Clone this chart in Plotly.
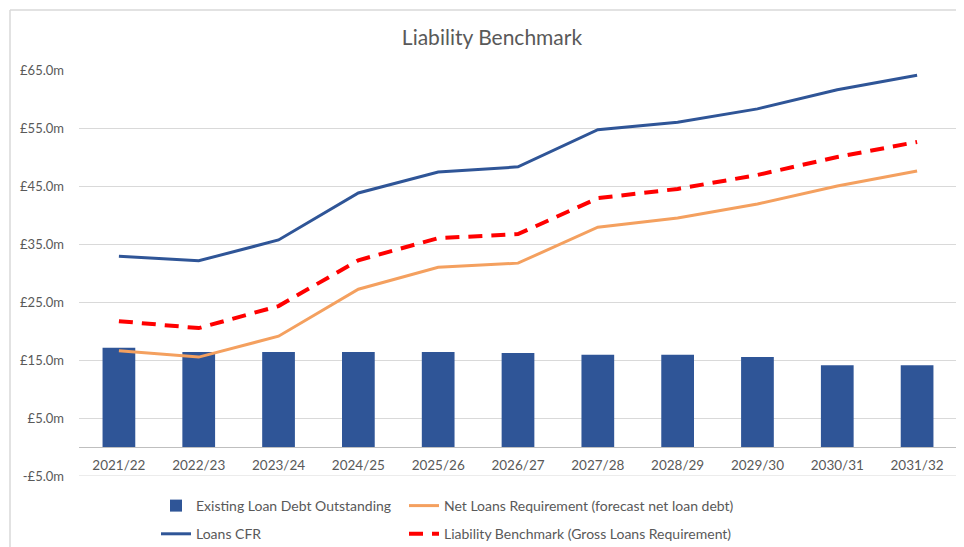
import plotly.graph_objects as go

categories = ["2021/22", "2022/23", "2023/24", "2024/25", "2025/26", "2026/27",
              "2027/28", "2028/29", "2029/30", "2030/31", "2031/32"]
existing_debt = [17.1, 16.4, 16.4, 16.4, 16.4, 16.2, 15.9, 15.9, 15.5, 14.1, 14.1]
net_loans_req = [16.6, 15.5, 19.1, 27.2, 31.0, 31.7, 37.9, 39.5, 41.9, 45.0, 47.6]
loans_cfr = [32.9, 32.1, 35.7, 43.8, 47.4, 48.3, 54.7, 56.0, 58.3, 61.6, 64.1]
liability_bm = [21.7, 20.5, 24.3, 32.2, 36.0, 36.7, 42.9, 44.5, 46.9, 50.0, 52.6]
y_ticks = [-5, 5, 15, 25, 35, 45, 55, 65]
y_tick_labels = ["-£5.0m", "£5.0m", "£15.0m", "£25.0m", "£35.0m", "£45.0m", "£55.0m", "£65.0m"]

FONT = "Lato"
GREY = "#595959"

# page has an 8px body margin; figure sized to fill the rest of the window
W, H = 956, 539
PL, PR, PT, PB = 71, 7, 62, 71
PW, PH = W - PL - PR, H - PT - PB

fig = go.Figure()
fig.add_trace(go.Bar(x=categories, y=existing_debt, name="Existing Loan Debt Outstanding",
                     marker=dict(color="#2F5597", line=dict(width=0)),
                     legend="legend", legendgroup="a"))
fig.add_trace(go.Scatter(x=categories, y=loans_cfr, name="Loans CFR", mode="lines",
                         line=dict(color="#2F5597", width=3),
                         legend="legend", legendgroup="b"))
fig.add_trace(go.Scatter(x=categories, y=net_loans_req,
                         name="Net Loans Requirement (forecast net loan debt)", mode="lines",
                         line=dict(color="#F4A05F", width=3),
                         legend="legend2", legendgroup="c"))
fig.add_trace(go.Scatter(x=categories, y=liability_bm,
                         name="Liability Benchmark (Gross Loans Requirement)", mode="lines",
                         line=dict(color="#FF0000", width=4, dash="14px,9px"),
                         legend="legend2", legendgroup="d"))

legend_common = dict(orientation="v", yanchor="top", xanchor="left",
                     font=dict(family=FONT, size=14, color=GREY),
                     bgcolor="rgba(0,0,0,0)", tracegroupgap=7, itemwidth=30)

fig.update_layout(
    width=W, height=H,
    margin=dict(l=PL, r=PR, t=PT, b=PB, autoexpand=False),
    paper_bgcolor="white", plot_bgcolor="white",
    font=dict(family=FONT, color=GREY),
    title=dict(text="Liability Benchmark", x=484 / W, xanchor="center", y=1 - 30 / H,
               yanchor="middle", font=dict(family=FONT, size=21, color=GREY)),
    bargap=0.59,
    showlegend=True,
    legend=dict(x=77 / PW, y=-14 / PH, **legend_common),
    legend2=dict(x=325 / PW, y=-14 / PH, **legend_common),
    xaxis=dict(type="category", anchor="free", position=29 / PH,
               showline=True, linecolor="#BFBFBF", linewidth=1,
               showgrid=False, ticks="", ticklabelstandoff=6,
               tickfont=dict(family=FONT, size=13.5, color=GREY)),
    yaxis=dict(range=[-5, 65], tickvals=y_ticks, ticktext=y_tick_labels,
               showgrid=True, gridcolor="#D9D9D9", gridwidth=1,
               zeroline=False, showline=False, ticks="", ticklabelstandoff=14,
               tickfont=dict(family=FONT, size=13, color=GREY)),
    shapes=[
        dict(type="line", xref="paper", yref="y", x0=0, x1=1, y0=-5, y1=-5,
             line=dict(color="#D9D9D9", width=1), layer="below"),
        dict(type="line", xref="paper", yref="paper",
             x0=(2 - PL) / PW, x1=(W - PL) / PW,
             y0=(PH + PT - 2) / PH, y1=(PH + PT - 2) / PH,
             line=dict(color="#D9D9D9", width=1.5)),
        dict(type="line", xref="paper", yref="paper",
             x0=(2 - PL) / PW, x1=(2 - PL) / PW,
             y0=(PH + PT - 2) / PH, y1=-PB / PH,
             line=dict(color="#D9D9D9", width=1.5)),
    ],
)

fig.write_html("out.html")
